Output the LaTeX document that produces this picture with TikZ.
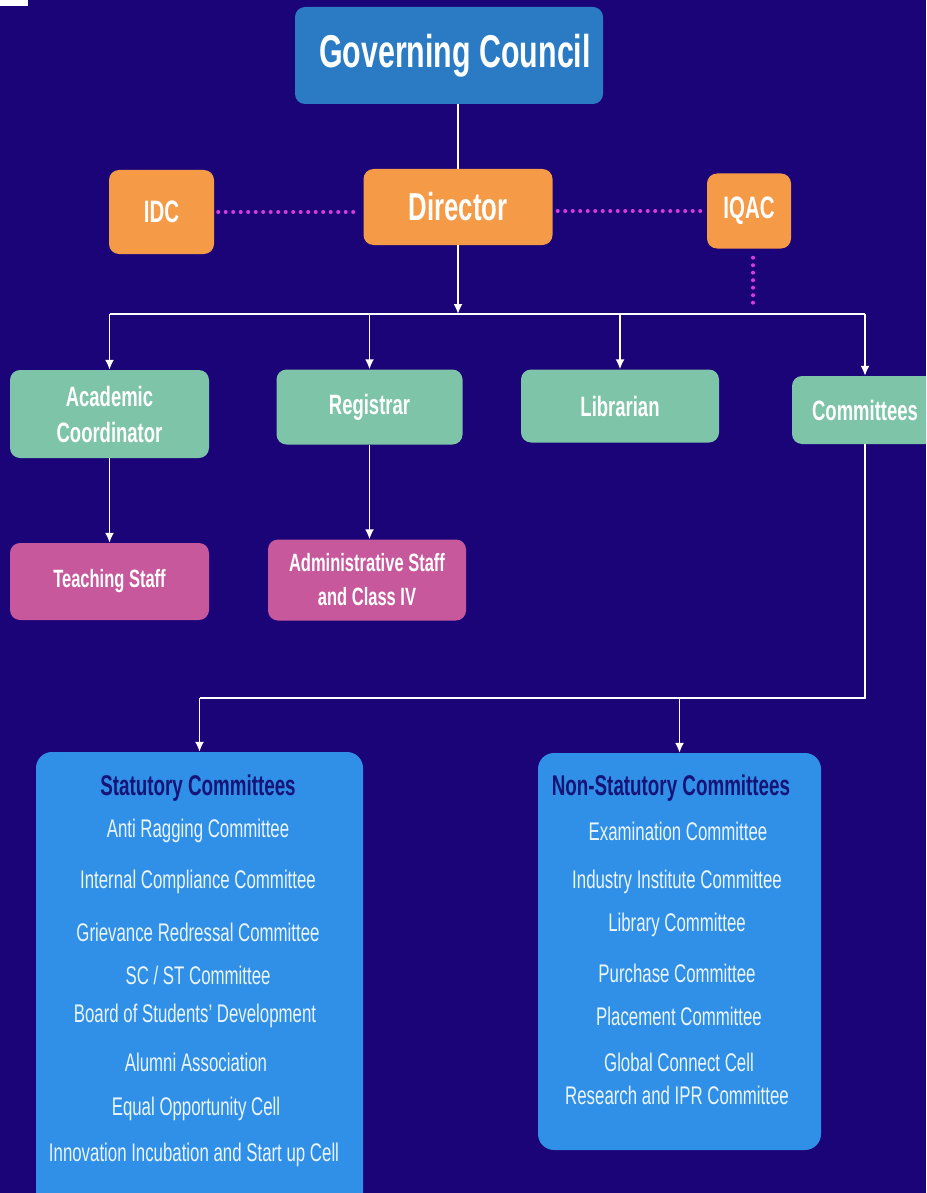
\documentclass[tikz,border=0pt]{standalone}
\usepackage{fontspec}
\setmainfont{Liberation Sans}[FakeStretch=0.66]
\usetikzlibrary{arrows.meta}

\definecolor{bgnavy}{RGB}{27,4,119}
\definecolor{gcblue}{RGB}{42,123,196}
\definecolor{dirorange}{RGB}{245,154,71}
\definecolor{staffteal}{RGB}{125,196,168}
\definecolor{staffpink}{RGB}{200,88,156}
\definecolor{listblue}{RGB}{48,143,230}
\definecolor{titlenavy}{RGB}{22,20,120}
\definecolor{itemwhite}{RGB}{234,245,252}
\definecolor{dotmagenta}{RGB}{214,59,224}

\tikzset{
  box/.style={rounded corners=10pt, text=white, align=center, inner sep=0pt},
  orangebox/.style={box, fill=dirorange, font=\fontsize{31}{34}\selectfont\bfseries},
  tealbox/.style={box, fill=staffteal, font=\fontsize{28}{36}\selectfont\bfseries},
  pinkbox/.style={box, fill=staffpink, font=\fontsize{25}{34}\selectfont\bfseries},
  listbox/.style={fill=listblue, rounded corners=16pt, inner sep=0pt},
  listhead/.style={text=titlenavy, font=\fontsize{28.5}{30}\selectfont\bfseries},
  listitem/.style={text=itemwhite, font=\fontsize{25.5}{28}\selectfont},
  link/.style={white, line width=1.8pt},
  dotlink/.style={dotmagenta, line width=4pt, dash pattern=on 0pt off 7.5pt, line cap=round}
}

\begin{document}
\begin{tikzpicture}[>={Latex[length=10pt,width=9pt]}, x=1pt, y=-1pt]

	\useasboundingbox[fill=bgnavy] (0,0) rectangle (926,1193);
	\clip (0,0) rectangle (926,1193);
	\fill [white] (0,0) rectangle (28,6);

	\node [box, fill=gcblue, minimum width=308, minimum height=97, font=\fontsize{46}{50}\selectfont\bfseries] (gc) at (449,55.5) {\hspace*{12pt}Governing Council};
	\node [orangebox, minimum width=189, minimum height=76, font=\fontsize{39}{44}\selectfont\bfseries] (dir) at (458,207) {Director};
	\node [orangebox, minimum width=105, minimum height=84] (idc) at (161.5,212) {IDC};
	\node [orangebox, minimum width=84, minimum height=75] (iqac) at (749,211) {IQAC};

	\node [tealbox, minimum width=199, minimum height=88] (acad) at (109.5,414) {Academic\\Coordinator};
	\node [tealbox, minimum width=186, minimum height=75] (reg) at (369.5,407) {Registrar};
	\node [tealbox, minimum width=198, minimum height=73] (lib) at (620,406) {Librarian};
	\node [tealbox, minimum width=146, minimum height=68] (comm) at (865,410) {Committees};

	\node [pinkbox, minimum width=199, minimum height=77] (teach) at (109.5,581.5) {Teaching Staff};
	\node [pinkbox, minimum width=198, minimum height=81] (admin) at (367,580) {Administrative Staff\\and Class IV};

	\node [listbox, minimum width=327, minimum height=476] (stat) at (199.5,990) {};
	\node [listbox, minimum width=283, minimum height=397] (nonstat) at (679.5,951.5) {};

	\node [listhead] (stathead) at (198,788) {Statutory Committees};
	\node [listitem] (s1) at (198,831) {Anti Ragging Committee};
	\node [listitem] (s2) at (198,882) {Internal Compliance Committee};
	\node [listitem] (s3) at (198,932) {Grievance Redressal Committee};
	\node [listitem] (s4) at (198,975) {SC / ST Committee};
	\node [listitem] (s5) at (195,1016) {Board of Students' Development};
	\node [listitem] (s6) at (196,1062) {Alumni Association};
	\node [listitem] (s7) at (196,1109) {Equal Opportunity Cell};
	\node [listitem] (s8) at (194,1155) {Innovation Incubation and Start up Cell};

	\node [listhead] (nonstathead) at (671,788) {Non-Statutory Committees};
	\node [listitem] (n1) at (678,831) {Examination Committee};
	\node [listitem] (n2) at (677,882) {Industry Institute Committee};
	\node [listitem] (n3) at (677,925) {Library Committee};
	\node [listitem] (n4) at (677,973) {Purchase Committee};
	\node [listitem] (n5) at (679,1016) {Placement Committee};
	\node [listitem] (n6) at (679,1062) {Global Connect Cell};
	\node [listitem] (n7) at (677,1095) {Research and IPR Committee};

	\draw [link] (dir.north) -- (dir.north |- gc.south);
	\draw [dotlink, shorten <=4pt, shorten >=3pt] (idc.east) -- (idc.east -| dir.west);
	\draw [dotlink, shorten <=5pt, shorten >=3pt] (dir.east |- iqac.west) -- (iqac.west);
	\coordinate (iqacend) at (753,305);
	\draw [dotlink, shorten <=9pt] (iqac.south -| iqacend) -- (iqacend);

	\coordinate (bus) at (461,314);
	\draw [link, ->] (dir.south) -- (dir.south |- bus);
	\draw [link] (acad.north |- bus) -- (comm.north |- bus);
	\draw [link, ->] (acad.north |- bus) -- (acad.north);
	\draw [link, ->] (reg.north |- bus) -- (reg.north);
	\draw [link, ->] (lib.north |- bus) -- (lib.north);
	\draw [link, ->] (comm.north |- bus) -- (comm.north);

	\draw [link, ->] (acad.south) -- (teach.north);
	\draw [link, ->] (reg.south) -- (reg.south |- admin.north);

	\coordinate (split) at (680,698);
	\draw [link] (comm.south) -- (comm.south |- split) -- (split -| stat.north);
	\draw [link, ->] (split -| stat.north) -- (stat.north);
	\draw [link, ->] (split -| nonstat.north) -- (nonstat.north);

\end{tikzpicture}
\end{document}
